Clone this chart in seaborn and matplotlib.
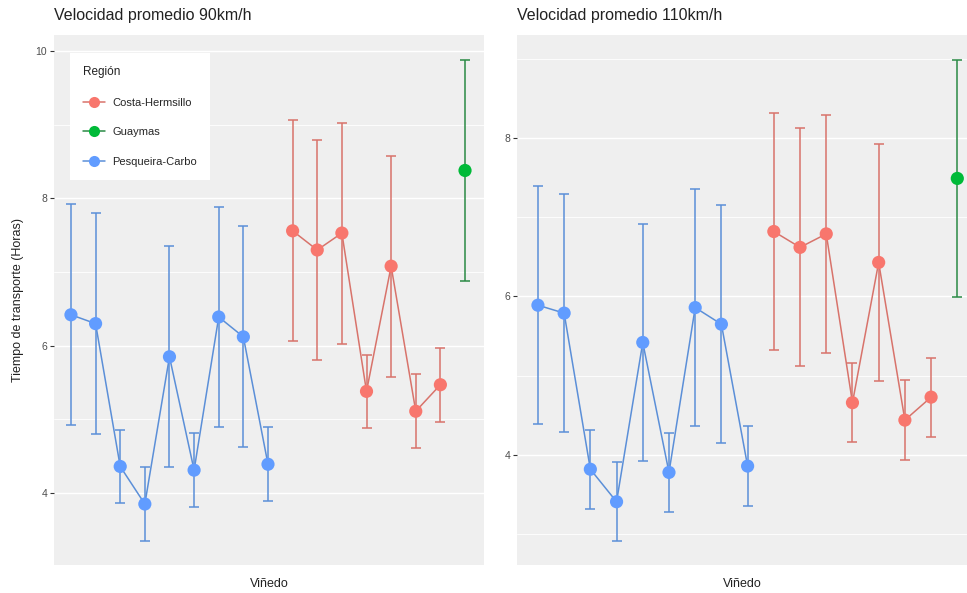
import numpy as np
import pandas as pd
import seaborn as sns
import matplotlib.pyplot as plt
from matplotlib.lines import Line2D

# regions per vineyard (x order on the discrete axis)
regions = ['Pesqueira-Carbo'] * 9 + ['Costa-Hermsillo'] * 7 + ['Guaymas']
legend_order = ['Costa-Hermsillo', 'Guaymas', 'Pesqueira-Carbo']

mean_90 = [6.42, 6.30, 4.36, 3.85, 5.85, 4.31, 6.39, 6.12, 4.39,
           7.56, 7.30, 7.53, 5.38, 7.08, 5.11, 5.47, 8.38]
mean_110 = [5.89, 5.79, 3.82, 3.41, 5.42, 3.78, 5.86, 5.65, 3.86,
            6.82, 6.62, 6.79, 4.66, 6.43, 4.44, 4.73, 7.49]
err = [1.5, 1.5, 0.5, 0.5, 1.5, 0.5, 1.5, 1.5, 0.5,
       1.5, 1.5, 1.5, 0.5, 1.5, 0.5, 0.5, 1.5]

point_pal = {'Costa-Hermsillo': '#F8766D', 'Guaymas': '#00BA38', 'Pesqueira-Carbo': '#619CFF'}
line_pal = {'Costa-Hermsillo': '#D8736B', 'Guaymas': '#2A8A45', 'Pesqueira-Carbo': '#5B8FD8'}

sns.set_theme(style='darkgrid', rc={
    'axes.facecolor': '#EFEFEF',
    'grid.color': 'white',
    'figure.facecolor': 'white',
})
plt.rcParams['font.family'] = ['Liberation Sans', 'DejaVu Sans']

fig = plt.figure(figsize=(9.67, 5.93), dpi=100)
ax1 = fig.add_axes([0.0558, 0.047, 0.4447, 0.894])
ax2 = fig.add_axes([0.5346, 0.047, 0.4654, 0.894])


def draw_panel(ax, means, title, ylim, xlim):
    df = pd.DataFrame({'pos': np.arange(1, len(means) + 1), 'mean': means,
                       'err': err, 'region': regions})
    sns.lineplot(data=df, x='pos', y='mean', hue='region', palette=line_pal,
                 linewidth=1.1, legend=False, ax=ax, zorder=2)
    for reg, sub in df.groupby('region'):
        ax.errorbar(sub['pos'], sub['mean'], yerr=sub['err'], fmt='none',
                    ecolor=line_pal[reg], elinewidth=1.1, capsize=3.5,
                    capthick=1.1, zorder=2)
    sns.scatterplot(data=df, x='pos', y='mean', hue='region', palette=point_pal,
                    s=90, edgecolor='none', legend=False, ax=ax, zorder=3)
    ax.set_xticks([])
    ax.set_yticks([4, 6, 8, 10])
    ax.set_yticks([3, 5, 7, 9], minor=True)
    ax.set_xlim(*xlim)
    ax.set_ylim(*ylim)
    ax.grid(True, which='major', axis='y', color='white', linewidth=1.0)
    ax.grid(True, which='minor', axis='y', color='white', linewidth=0.6)
    ax.grid(False, axis='x')
    ax.tick_params(axis='y', which='major', length=3, width=0.8, color='#333333',
                   labelsize=7.5, labelcolor='#4D4D4D', pad=2, left=True)
    ax.tick_params(axis='y', which='minor', length=0)
    for s in ax.spines.values():
        s.set_visible(False)
    ax.set_title(title, loc='left', fontsize=11.5, color='#222222', pad=11)
    ax.set_xlabel('Viñedo', fontsize=9, color='#222222', labelpad=9)
    ax.set_ylabel('')


draw_panel(ax1, mean_90, 'Velocidad promedio 90km/h', (3.02, 10.22), (0.31, 17.77))
draw_panel(ax2, mean_110, 'Velocidad promedio 110km/h', (2.61, 9.30), (0.2, 17.37))
ax1.set_ylabel('Tiempo de transporte (Horas)', fontsize=9, color='#222222', labelpad=8)

handles = [Line2D([0], [0], color=line_pal[r], lw=1.1, marker='o', markersize=8,
                  markerfacecolor=point_pal[r], markeredgecolor='none')
           for r in legend_order]
leg = ax1.legend(handles, legend_order, title='Región', loc='upper left',
                 bbox_to_anchor=(0.037, 0.966), frameon=True, facecolor='white',
                 edgecolor='white', framealpha=1, fontsize=8, title_fontsize=8.5,
                 handlelength=2.0, handletextpad=0.6, labelspacing=1.75,
                 borderpad=1.2, borderaxespad=0, alignment='left')
leg.get_frame().set_linewidth(0)
leg.get_frame().set_boxstyle('square', pad=0)
leg.get_title().set_color('#222222')

fig.savefig('out.png', dpi=100)
